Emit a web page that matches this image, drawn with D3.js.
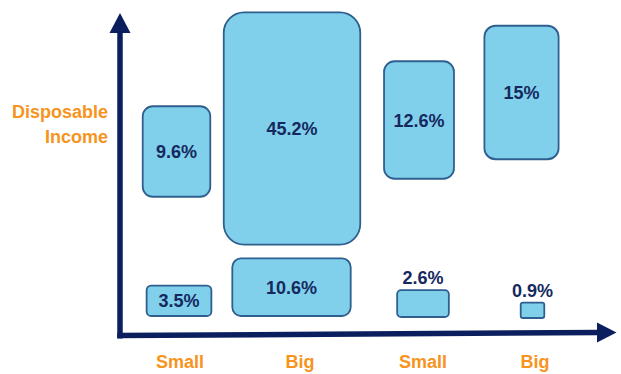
<!DOCTYPE html>
<html>
<head>
<meta charset="utf-8">
<script src="https://cdn.jsdelivr.net/npm/d3@7"></script>
<style>
  html, body { margin: 0; padding: 0; background: #ffffff; }
  svg { display: block; }
  text { font-family: Arial, "Liberation Sans", Helvetica, sans-serif; font-weight: bold; }
</style>
</head>
<body>
<svg id="chart" width="621" height="374"></svg>
<script>
// Company size groups along the horizontal axis
const categories = ["Small", "Big", "Small", "Big"];
// Share (%) in the high disposable-income segment, per group
const upperValues = [9.6, 45.2, 12.6, 15];
// Share (%) in the low disposable-income segment, per group
const lowerValues = [3.5, 10.6, 2.6, 0.9];
const yTitle = ["Disposable", "Income"];

// ---- layout ----
const W = 621, H = 374;
const axisColor = "#0b1f5e";
const orange = "#f7941d";
const boxFill = "#80d0ec";
const boxStroke = "#2f5f8e";
const labelColor = "#15295e";

const colCenters = [180, 300, 423, 535];
const upperLayout = { dx: [-3.5, -8, -4, -13.5], cy: [151.5, 128.5, 120, 92.5], aspect: [1.34, 1.70, 1.68, 1.8] };
const lowerLayout = { dx: [-1, -8.5, 0, -2.5], bottom: [316, 316, 317, 318], aspect: [0.47, 0.486, 0.52, 0.65] };

const svg = d3.select("#chart");

// Column positions
const xCol = d3.scaleOrdinal().domain(d3.range(categories.length)).range(colCenters);

// Box size: a sqrt-type scale turning a share into the box's characteristic side
const allValues = upperValues.concat(lowerValues);
const sizeScale = d3.scaleSqrt()
  .domain([d3.min(allValues), d3.max(allValues)])
  .range([19, 178]);

function boxes(values, layout, row) {
  return values.map((v, i) => {
    const s = sizeScale(v);
    const a = layout.aspect[i];
    const w = s / Math.sqrt(a);
    const h = s * Math.sqrt(a);
    const cx = xCol(i) + layout.dx[i];
    const cy = row === "upper" ? layout.cy[i] : layout.bottom[i] - h / 2;
    return { v, i, w, h, cx, cy, row };
  });
}

const data = boxes(upperValues, upperLayout, "upper").concat(boxes(lowerValues, lowerLayout, "lower"));

// ---- axes (arrows) ----
const ax = svg.append("g");
ax.append("line")
  .attr("x1", 120).attr("y1", 338.5).attr("x2", 120).attr("y2", 30)
  .attr("stroke", axisColor).attr("stroke-width", 5.5);
ax.append("path")
  .attr("d", "M120,13 L130.5,33 L109.5,33 Z")
  .attr("fill", axisColor);
ax.append("line")
  .attr("x1", 117.25).attr("y1", 335.5).attr("x2", 600).attr("y2", 332.5)
  .attr("stroke", axisColor).attr("stroke-width", 5.5);
ax.append("path")
  .attr("d", "M616.5,332.5 L597,322.5 L597,342.5 Z")
  .attr("fill", axisColor);

// ---- boxes ----
const g = svg.append("g");
g.selectAll("rect.box")
  .data(data)
  .join("rect")
  .attr("class", "box")
  .attr("x", d => d.cx - d.w / 2)
  .attr("y", d => d.cy - d.h / 2)
  .attr("width", d => d.w)
  .attr("height", d => d.h)
  .attr("rx", d => 0.15 * Math.min(d.w, d.h))
  .attr("ry", d => 0.15 * Math.min(d.w, d.h))
  .attr("fill", boxFill)
  .attr("stroke", boxStroke)
  .attr("stroke-width", 1.8);

// Value labels: inside the box, or above it when the box is too small
g.selectAll("text.val")
  .data(data)
  .join("text")
  .attr("class", "val")
  .attr("x", d => d.cx)
  .attr("y", d => (d.h < 28 ? d.cy - d.h / 2 - 6 : d.cy + 6.5))
  .attr("text-anchor", "middle")
  .attr("font-size", 18)
  .attr("fill", labelColor)
  .text(d => d.v + "%");

// ---- category labels ----
svg.selectAll("text.cat")
  .data(categories)
  .join("text")
  .attr("class", "cat")
  .attr("x", (d, i) => xCol(i))
  .attr("y", 368)
  .attr("text-anchor", "middle")
  .attr("font-size", 18)
  .attr("fill", orange)
  .text(d => d);

// ---- vertical axis title ----
svg.selectAll("text.ytitle")
  .data(yTitle)
  .join("text")
  .attr("class", "ytitle")
  .attr("x", 108)
  .attr("y", (d, i) => 118 + i * 25)
  .attr("text-anchor", "end")
  .attr("font-size", 18)
  .attr("fill", orange)
  .text(d => d);
</script>
</body>
</html>
